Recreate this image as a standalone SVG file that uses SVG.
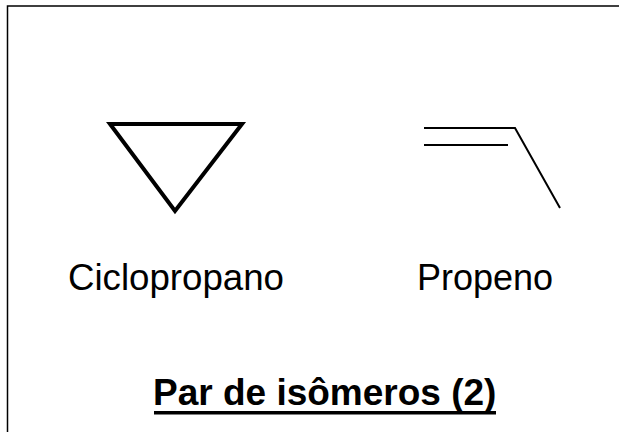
<svg xmlns="http://www.w3.org/2000/svg" width="619" height="432" viewBox="0 0 619 432">
<style>
.lbl{font-family:"Liberation Sans",Arial,sans-serif;font-size:36px;fill:#000}
.title{font-family:"Liberation Sans",Arial,sans-serif;font-size:37px;font-weight:bold;fill:#000}
.bond{fill:none;stroke:#000;stroke-linecap:butt;stroke-linejoin:miter}
</style>
<rect x="0" y="0" width="619" height="432" fill="#fff"/>
<path d="M7.5,440 V6 H640" fill="none" stroke="#000" stroke-width="1.5"/>
<g id="ciclopropano">
<polygon class="bond" points="110,124 242,124 175,211" stroke-width="4"/>
<text class="lbl" x="68" y="290" textLength="216" lengthAdjust="spacingAndGlyphs">Ciclopropano</text>
</g>
<g id="propeno">
<polyline class="bond" points="424,128 515,128 560,208" stroke-width="2"/>
<line class="bond" x1="424" y1="145" x2="508" y2="145" stroke-width="2"/>
<text class="lbl" x="417" y="290">Propeno</text>
</g>
<g id="titulo">
<text class="title" x="153" y="405">Par de isômeros (2)</text>
<rect x="154" y="411" width="342" height="3.5" fill="#000"/>
</g>
<g id="connectors"/>
</svg>
